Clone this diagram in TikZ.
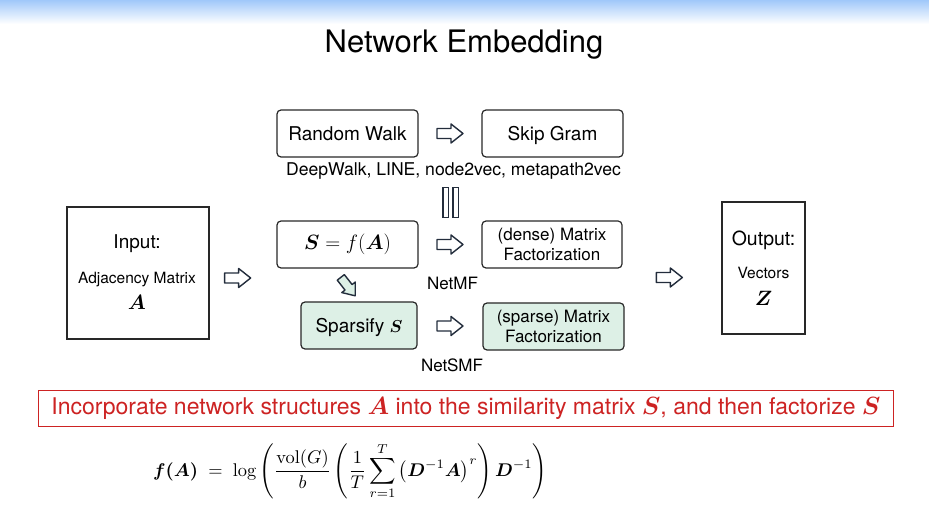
\documentclass[tikz,border=0pt]{standalone}
\usepackage{amsmath,bm}
\usepackage{graphicx}
\usepackage[no-math]{fontspec}
\setmainfont{TeX Gyre Heros}
\usetikzlibrary{calc}
\definecolor{boxc}{RGB}{40,40,40}
\definecolor{arrowc}{RGB}{35,45,60}
\definecolor{redc}{RGB}{205,35,35}
\definecolor{mint}{RGB}{221,240,230}
\definecolor{bluetop}{RGB}{160,200,250}
\tikzset{
  pics/harrow/.style={code={
    \draw[line width=1.4pt, draw=arrowc, fill=#1, line join=round]
      (-13,-5) -- (1,-5) -- (1,-9.5) -- (13,0) -- (1,9.5) -- (1,5) -- (-13,5) -- cycle;}},
  pics/harrow/.default=white,
  rbox/.style={draw=boxc, line width=1.2pt, rounded corners=4pt, fill=white,
    minimum width=141pt, minimum height=47pt, inner sep=0pt, align=center},
  oneline/.style={text height=13.7pt, text depth=0pt},
  sqbox/.style={draw=boxc, line width=1.3pt, fill=white, minimum width=142pt,
    minimum height=132pt, inner sep=0pt},
  big/.style={font=\fontsize{19}{22}\selectfont},
  mid/.style={font=\fontsize{17}{20}\selectfont},
  small/.style={font=\fontsize{15.5}{18}\selectfont},
}
\begin{document}
\begin{tikzpicture}[x=1pt,y=-1pt]
\useasboundingbox (0,0) rectangle (929,521);
\fill[white] (0,0) rectangle (929,521);
\shade[top color=bluetop, bottom color=white] (0,0) rectangle (929,24);

\node[font=\fontsize{31}{35}\selectfont] (title) at (464,45) {Network Embedding};

% boxes
\node[rbox, big, oneline] (rw) at (347.5,133.5) {Random Walk};
\node[rbox, big, oneline] (sg) at (552.5,133.5) {Skip Gram};
\node[font=\fontsize{17.6}{20}\selectfont] (dw) at (453.5,171) {DeepWalk, LINE, node2vec, metapath2vec};

\node[rbox, font=\fontsize{21}{24}\selectfont] (sfa) at (347.5,244.5) {$\bm{S} = f(\bm{A})$};
\node[rbox, mid, minimum width=140pt] (dmf) at (552,244.5) {(dense) Matrix\\Factorization};
\node[mid] (netmf) at (452.5,283) {NetMF};

\node[rbox, big, oneline, fill=mint, minimum width=116pt] (spf) at (359,325.5) {Sparsify $\bm{S}$};
\node[rbox, mid, fill=mint] (smf) at (553.5,326.5) {(sparse) Matrix\\Factorization};
\node[mid] (netsmf) at (452,365) {NetSMF};

\node[sqbox] (in) at (138,273) {};
\node[big] (inl) at (137,244) {Input:};
\node[small] (adj) at (137,280) {Adjacency Matrix};
\node[font=\fontsize{20}{24}\selectfont] (ina) at (137,302) {$\bm{A}$};

\node[sqbox, minimum width=83pt] (out) at (763.5,268) {};
\node[font=\fontsize{19.5}{22}\selectfont] (outl) at (763.5,240) {Output:};
\node[small] (vec) at (763.5,273) {Vectors};
\node[font=\fontsize{20}{24}\selectfont] (outz) at (763.5,298) {$\bm{Z}$};

% hollow arrows
\pic at ($(rw.east)!.5!(sg.west)$) {harrow};
\pic at ($(sfa.east)!.5!(dmf.west)$) {harrow};
\pic at ($(spf.east)!.5!(smf.west)$) {harrow};
\pic at ($(in.east)+(28,5)$) {harrow};
\pic at ($(out.west)+(-52,9.5)$) {harrow};
\pic[rotate=-52, scale=0.9] at ($(sfa.south)+(0.5,18)$) {harrow=mint};

% double bar
\draw[line width=1.2pt, draw=arrowc, fill=white] ($(dw.south)+(-10.5,5)$) rectangle ++(5.5,30);
\draw[line width=1.2pt, draw=arrowc, fill=white] ($(dw.south)+(-0.5,5)$) rectangle ++(5.5,30);

% red statement
\node[draw=redc, line width=1.8pt, minimum width=855pt, minimum height=36pt, inner sep=0pt,
  text=redc, font=\fontsize{23}{26}\selectfont] (stmt) at (466,408.5)
  {Incorporate network structures $\bm{A}$ into the similarity matrix $\bm{S}$, and then factorize $\bm{S}$};

% formula
\node[anchor=west, inner sep=0pt] (formula) at (153,471) {\resizebox{394pt}{!}{$\displaystyle
  \bm{f(A)} \;=\; \log\left(\frac{\mathrm{vol}(G)}{b}\left(\frac{1}{T}\sum_{r=1}^{T}\left(\bm{D}^{-1}\bm{A}\right)^{r}\right)\bm{D}^{-1}\right)$}};
\end{tikzpicture}
\end{document}
